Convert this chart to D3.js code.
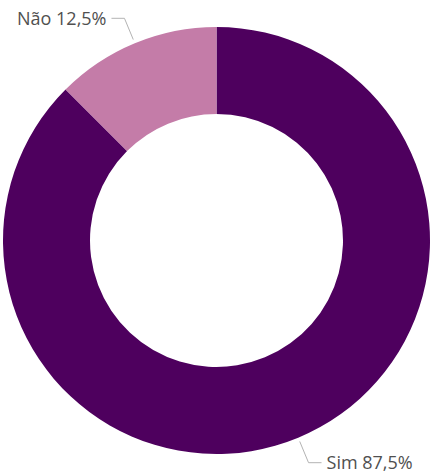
<!DOCTYPE html>
<html>
<head>
<meta charset="utf-8">
<script src="https://cdn.jsdelivr.net/npm/d3@7"></script>
<style>
  html, body { margin: 0; padding: 0; background: #fff; }
  svg { display: block; }
  text { font-family: "Open Sans", "Noto Sans", sans-serif; }
</style>
</head>
<body>
<svg id="chart" width="431" height="473"></svg>
<script>
const categories = ["Sim", "Não"];
const values = [87.5, 12.5];
const labels = ["Sim 87,5%", "Não 12,5%"];
const colors = ["#4e005e", "#c47ca8"];

const width = 431, height = 473;
const cx = 216.5, cy = 240.5;
const outerR = 213.5, innerR = 126.5;

const svg = d3.select("#chart");
const g = svg.append("g").attr("transform", `translate(${cx},${cy})`);

const pie = d3.pie().sort(null).value(d => d.value);
const data = pie(categories.map((c, i) => ({ cat: c, value: values[i], label: labels[i], color: colors[i] })));

const arc = d3.arc().innerRadius(innerR).outerRadius(outerR);

g.selectAll("path.slice")
  .data(data)
  .join("path")
  .attr("class", "slice")
  .attr("d", arc)
  .attr("fill", d => d.data.color);

// Leader lines and labels, placed from each slice's mid angle
const lineArc = d3.arc().innerRadius(outerR + 4).outerRadius(outerR + 4);
const elbowArc = d3.arc().innerRadius(outerR + 27).outerRadius(outerR + 27);

data.forEach(d => {
  const mid = (d.startAngle + d.endAngle) / 2;
  const p0 = lineArc.centroid(d);
  const p1 = elbowArc.centroid(d);
  const dir = Math.sin(mid) >= 0 ? 1 : -1;
  const p2 = [p1[0] + dir * 13, p1[1]];
  g.append("polyline")
    .attr("points", [p0, p1, p2].map(p => p.join(",")).join(" "))
    .attr("fill", "none")
    .attr("stroke", "#b3b3b3")
    .attr("stroke-width", 1);
  g.append("text")
    .attr("x", p2[0] + dir * 5)
    .attr("y", p2[1])
    .attr("dy", "0.35em")
    .attr("text-anchor", dir > 0 ? "start" : "end")
    .attr("font-size", 18)
    .attr("fill", "#505050")
    .text(d.data.label);
});
</script>
</body>
</html>
